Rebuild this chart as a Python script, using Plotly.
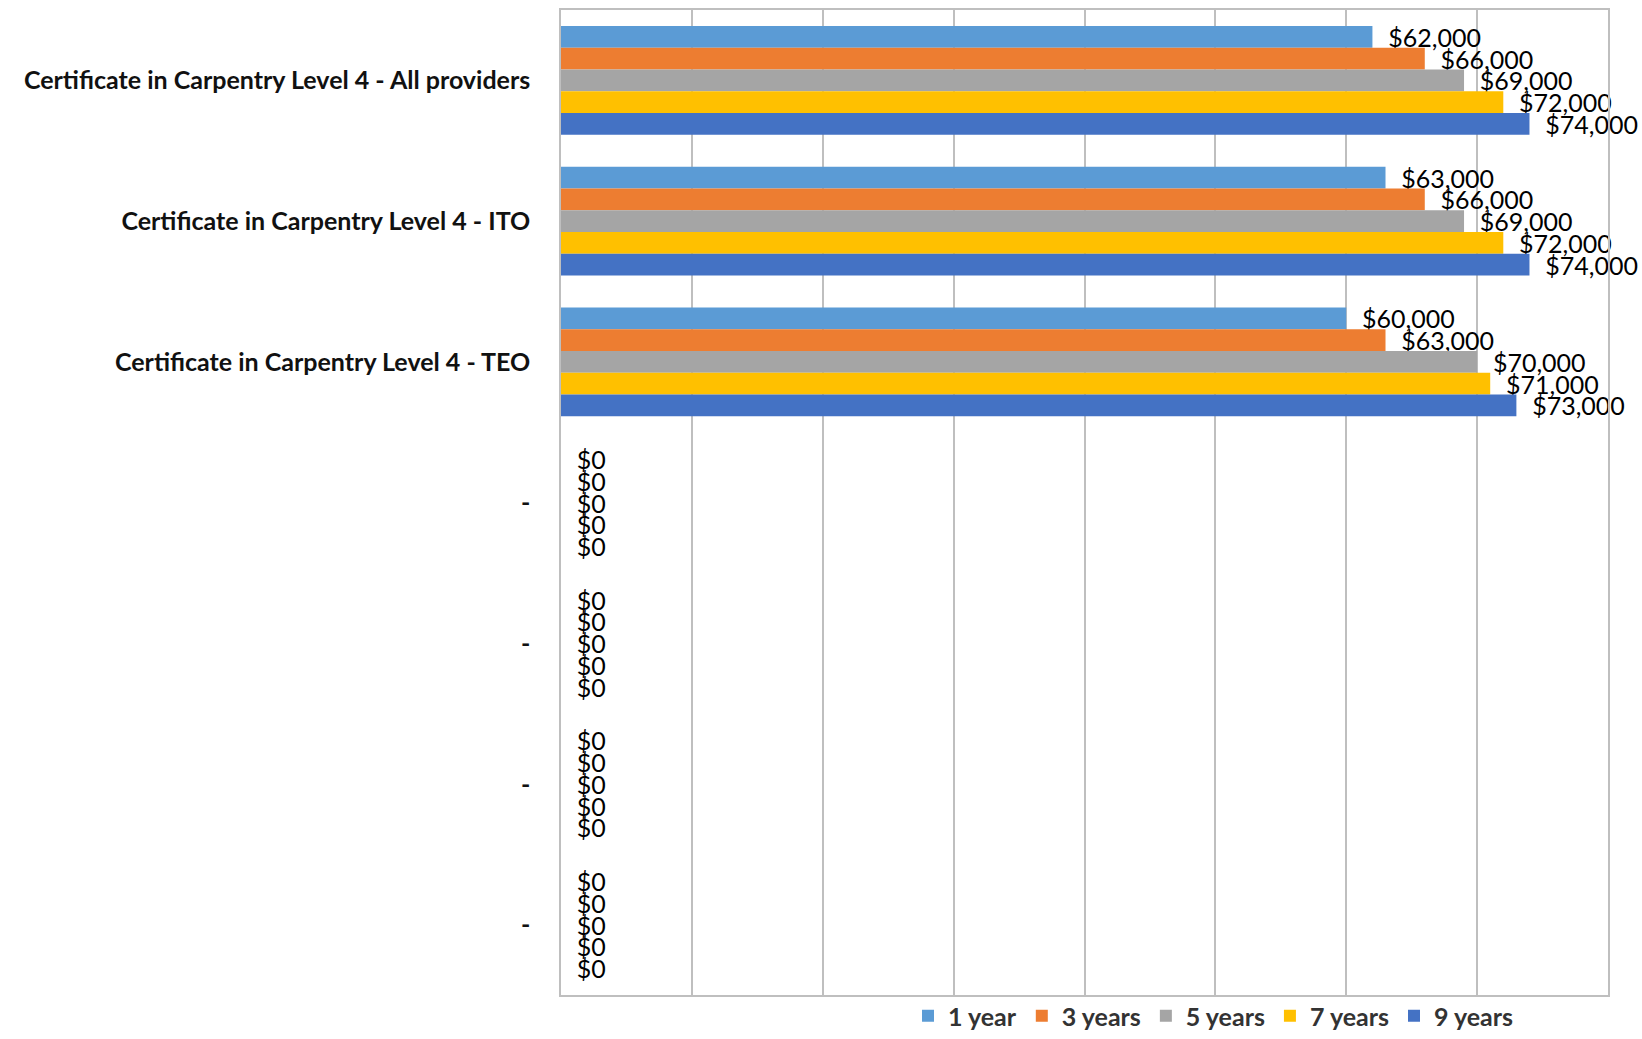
import plotly.graph_objects as go

categories = [
    "Certificate in Carpentry Level 4 - All providers",
    "Certificate in Carpentry Level 4 - ITO",
    "Certificate in Carpentry Level 4 - TEO",
    "-", "-", "-", "-",
]
series_names = ["1 year", "3 years", "5 years", "7 years", "9 years"]
colors = ["#5B9BD5", "#ED7D31", "#A5A5A5", "#FFC000", "#4472C4"]

year1 = [62000, 63000, 60000, 0, 0, 0, 0]
year3 = [66000, 66000, 63000, 0, 0, 0, 0]
year5 = [69000, 69000, 70000, 0, 0, 0, 0]
year7 = [72000, 72000, 71000, 0, 0, 0, 0]
year9 = [74000, 74000, 73000, 0, 0, 0, 0]
series_values = [year1, year3, year5, year7, year9]

positions = list(range(len(categories)))
NBSP = "\u00a0"

fig = go.Figure()
for name, vals, col in zip(series_names, series_values, colors):
    fig.add_trace(go.Bar(
        name=name,
        y=positions,
        x=vals,
        orientation="h",
        marker=dict(color=col, line=dict(width=0)),
        text=[NBSP * 2 + f"${v:,.0f}" for v in vals],
        textposition="outside",
        constraintext="none",
        cliponaxis=False,
        textfont=dict(family="Lato, sans-serif", size=25, color="#000000"),
    ))

fig.update_layout(
    width=1642, height=1039,
    barmode="group",
    bargap=0.227,
    bargroupgap=0,
    plot_bgcolor="white",
    paper_bgcolor="white",
    margin=dict(l=561, r=34, t=10, b=44, autoexpand=False),
    font=dict(family="Lato, sans-serif", color="#222222"),
    legend=dict(
        orientation="h",
        xref="container", yref="container",
        x=0.553, xanchor="left",
        y=0.0, yanchor="bottom",
        bgcolor="rgba(0,0,0,0)",
        font=dict(size=25, color="#333333", family="Lato, sans-serif", weight="bold"),
        traceorder="normal",
        itemwidth=30,
    ),
    showlegend=True,
)
fig.update_xaxes(
    range=[0, 80000],
    dtick=10000,
    showticklabels=False,
    showgrid=True,
    gridcolor="#BFBFBF",
    gridwidth=1.5,
    zeroline=False,
    showline=True,
    linecolor="#BFBFBF",
    linewidth=1.5,
    mirror=True,
    ticks="",
)
fig.update_yaxes(
    range=[len(categories) - 0.5, -0.5],
    tickvals=positions,
    ticktext=categories,
    tickfont=dict(size=25, color="#111111", family="Lato, sans-serif", weight="bold"),
    showgrid=False,
    zeroline=False,
    showline=True,
    linecolor="#BFBFBF",
    linewidth=1.5,
    mirror=True,
    ticks="",
    ticklabelstandoff=24,
)

fig.write_html("out.html")
